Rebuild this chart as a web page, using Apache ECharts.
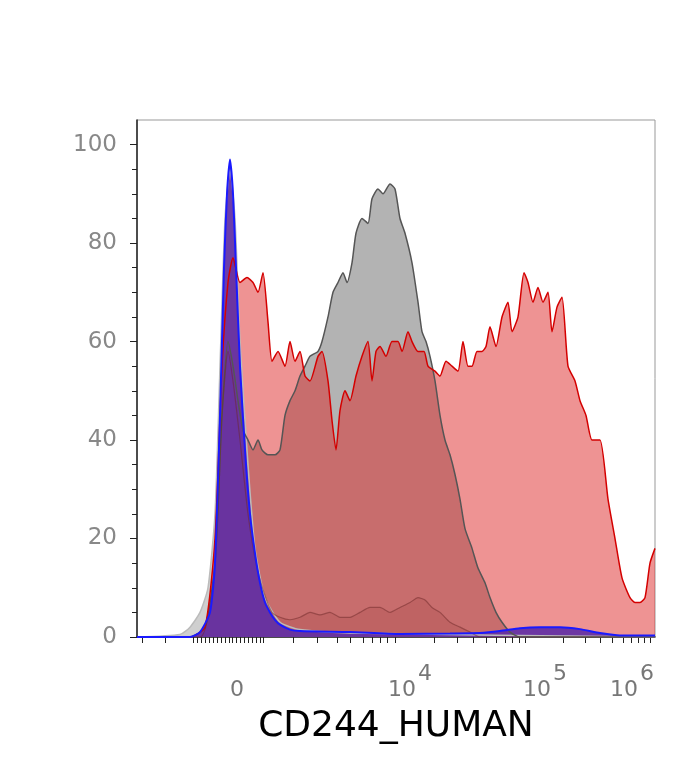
<!DOCTYPE html>
<html>
<head>
<meta charset="utf-8">
<script src="https://cdn.jsdelivr.net/npm/echarts@6/dist/echarts.min.js"></script>
<style>html,body{margin:0;padding:0;background:#fff}#main{width:697px;height:768px}</style>
</head>
<body>
<div id="main"></div>
<script>
// x positions are in display (biexponential) units, axis runs 137..655
var majorTicks = [232, 395, 525, 650];
var tickLabels = ['0', '10^4', '10^5', '10^6'];
var minorTicks = [142, 165, 193, 197, 201, 205, 209, 213, 217, 221, 225, 229, 236, 240, 244, 248, 252, 256, 260, 263,
  293, 317, 337, 350, 363, 372, 380, 387,
  434, 457, 473, 486, 496, 505, 512, 519,
  563, 585, 600, 612, 623, 631, 638, 644];

var redX = [137,190,205,215,222,228,233,240,247,253,258,263,268,272,278,285,290,295,300,305,310,318,322,328,332,336,340,345,350,356,362,368,372,376,380,386,392,398,402,408,412,418,424,428,435,440,446,452,458,463,468,472,477,482,486,490,496,502,508,512,518,524,528,533,538,543,548,552,557,562,568,575,580,586,592,600,608,615,622,630,635,640,645,650,655];
var redY = [0,0,2,20,55,72,77,72,73,72,70,74,64,56,58,55,60,56,58,53,52,57,58,52,44,38,46,50,48,53,57,60,52,58,59,57,60,60,58,62,60,58,58,55,54,53,56,55,54,60,55,55,58,58,59,63,59,65,68,62,65,74,72,68,71,68,70,62,67,69,55,52,48,45,40,40,28,20,12,8,7,7,8,15,18];

var grayX = [137,190,205,215,222,228,233,238,243,248,253,258,262,268,275,280,285,290,295,300,305,310,318,322,328,333,338,343,347,352,356,362,368,372,378,383,390,395,400,405,412,418,422,426,430,435,440,445,450,455,460,465,472,478,485,490,496,502,510,520,655];
var grayY = [0,0,2,15,45,60,55,48,42,40,38,40,38,37,37,38,45,48,50,53,55,57,58,60,65,70,72,74,72,76,82,85,84,89,91,90,92,91,85,82,76,68,62,60,57,52,45,40,37,33,28,22,18,14,11,8,5,3,1,0,0];

var brownX = [137,200,215,222,228,233,240,248,256,264,272,280,290,300,310,320,330,340,350,360,370,380,390,400,410,418,425,432,440,450,460,470,480,655];
var brownY = [0,0,15,45,58,52,40,25,15,9,5,4,3.5,4,5,4.5,5,4,4,5,6,6,5,6,7,8,7.5,6,5,3,2,1,0,0];

var blueX = [137,190,200,210,215,220,224,227,230,233,236,240,245,250,255,260,265,270,275,280,290,300,350,400,450,480,500,520,540,560,580,600,620,655];
var blueY = [0,0,1,5,15,45,75,90,97,90,75,55,38,25,17,11,7,5,3.5,2.5,1.5,1.2,1,0.6,0.7,0.8,1.2,1.8,2,2,1.6,0.8,0.3,0.3];

var ctrlX = [137,180,190,200,208,215,220,225,230,235,240,248,255,265,280,300,350,655];
var ctrlY = [0,0.5,2,5,10,25,55,85,95,85,60,35,18,8,3,1.5,0.8,0];

function pts(xs, ys) {
  return xs.map(function (x, i) { return [x, ys[i]]; });
}
function hist(name, xs, ys, line, fill, lw) {
  return {
    name: name, type: 'line', data: pts(xs, ys), showSymbol: false, smooth: 0.2,
    lineStyle: { color: line, width: lw }, areaStyle: { color: fill, opacity: 1, origin: 'start' }
  };
}

var labelStyle = { fontSize: 22, color: '#777', verticalAlign: 'bottom', lineHeight: 24 };
var rich = {
  z: Object.assign({}, labelStyle, { padding: [0, 0, 0, 10] }),
  b4: Object.assign({}, labelStyle, { padding: [0, 0, 0, 30] }),
  b5: Object.assign({}, labelStyle, { padding: [0, 0, 0, 40] }),
  b6: Object.assign({}, labelStyle, { padding: [0, 0, 0, 0] }),
  s: Object.assign({}, labelStyle, { padding: [0, 0, 16, 2] }),
  s6: Object.assign({}, labelStyle, { padding: [0, 36, 16, 2] })
};

var chart = echarts.init(document.getElementById('main'));
chart.setOption({
  animation: false,
  grid: { left: 137, right: 42, top: 120, bottom: 131, show: true, borderColor: '#999', borderWidth: 1 },
  xAxis: {
    type: 'value', min: 137, max: 655,
    name: 'CD244_HUMAN', nameLocation: 'middle', nameGap: 72,
    nameTextStyle: { color: '#000', fontSize: 36, fontFamily: 'DejaVu Sans' },
    axisLine: { lineStyle: { color: '#222', width: 1.5 } },
    splitLine: { show: false },
    axisTick: { customValues: majorTicks.concat(minorTicks), length: 6, lineStyle: { color: '#222' } },
    axisLabel: {
      customValues: majorTicks, margin: 40, color: '#777', fontFamily: 'DejaVu Sans',
      formatter: function (v) {
        var t = tickLabels[majorTicks.indexOf(v)];
        if (t === '0') return '{z|0}';
        var e = t.split('^')[1];
        if (e === '6') return '{b6|10}{s6|6}';
        return '{b' + e + '|10}{s|' + e + '}';
      },
      rich: rich
    }
  },
  yAxis: {
    type: 'value', min: 0, max: 105,
    axisLine: { show: true, lineStyle: { color: '#222', width: 1.5 } },
    splitLine: { show: false },
    axisTick: { show: true, customValues: [0, 20, 40, 60, 80, 100], length: 7, lineStyle: { color: '#222' } },
    minorTick: { show: true, splitNumber: 4, length: 5, lineStyle: { color: '#222' } },
    axisLabel: { customValues: [0, 20, 40, 60, 80, 100], color: '#888', fontSize: 23, fontFamily: 'DejaVu Sans', margin: 20 }
  },
  series: [
    hist('ctrl', ctrlX, ctrlY, '#bbb', '#cfcfcf', 1.5),
    hist('gray', grayX, grayY, '#555', '#b3b3b3', 1.5),
    hist('red', redX, redY, '#d40000', 'rgba(222,40,40,0.5)', 1.5),
    hist('brown', brownX, brownY, 'rgba(110,40,40,0.5)', 'rgba(140,50,50,0.15)', 1.2),
    hist('blue', blueX, blueY, '#1a1aff', 'rgba(95,45,165,0.9)', 2)
  ]
});
</script>
</body>
</html>
